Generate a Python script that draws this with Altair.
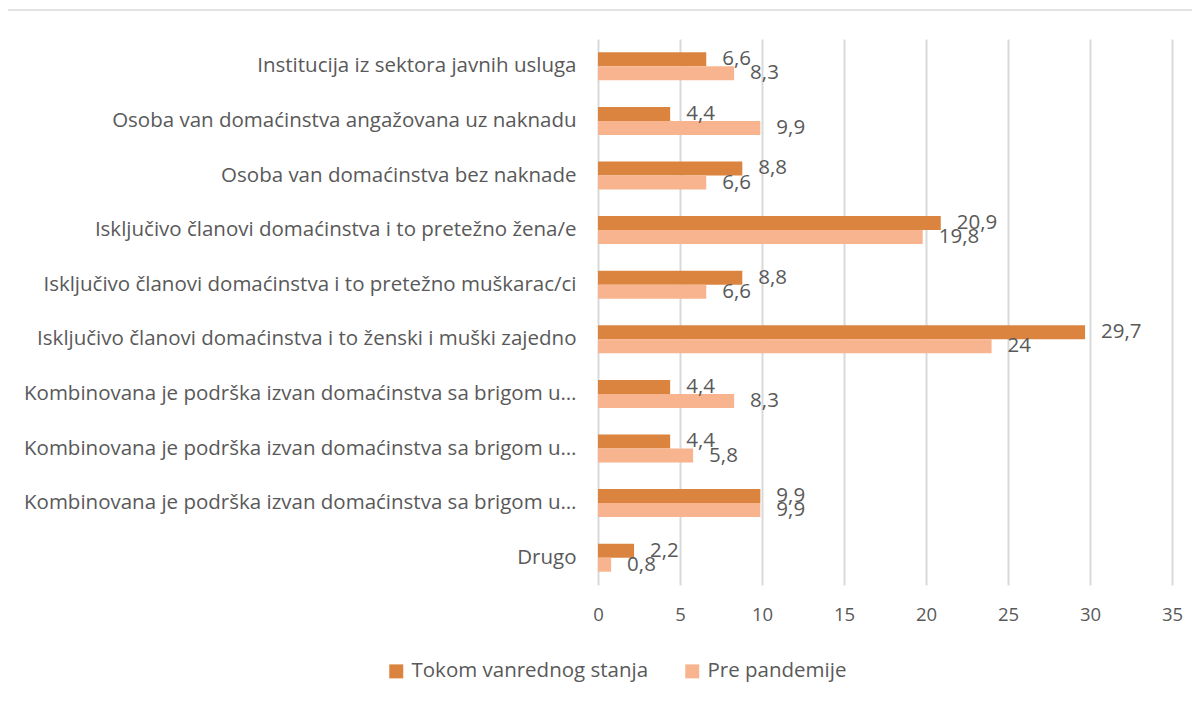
import altair as alt
import pandas as pd

categories = [
    "Institucija iz sektora javnih usluga",
    "Osoba van domaćinstva angažovana uz naknadu",
    "Osoba van domaćinstva bez naknade",
    "Isključivo članovi domaćinstva i to pretežno žena/e",
    "Isključivo članovi domaćinstva i to pretežno muškarac/ci",
    "Isključivo članovi domaćinstva i to ženski i muški zajedno",
    "Kombinovana je podrška izvan domaćinstva sa brigom u…",
    "Kombinovana je podrška izvan domaćinstva sa brigom u…",
    "Kombinovana je podrška izvan domaćinstva sa brigom u…",
    "Drugo",
]
series_names = ["Tokom vanrednog stanja", "Pre pandemije"]
tokom = [6.6, 4.4, 8.8, 20.9, 8.8, 29.7, 4.4, 4.4, 9.9, 2.2]
pre = [8.3, 9.9, 6.6, 19.8, 6.6, 24, 8.3, 5.8, 9.9, 0.8]
x_ticks = [0, 5, 10, 15, 20, 25, 30, 35]

rows = []
for i, c in enumerate(categories):
    rows.append({"idx": i, "series": series_names[0], "value": tokom[i]})
    rows.append({"idx": i, "series": series_names[1], "value": pre[i]})
df = pd.DataFrame(rows)

label_arr = "[" + ",".join("'" + c + "'" for c in categories) + "]"
FONT = "Open Sans"
FS = 20.5
GRAY = "#595959"
colors = ["#DB843F", "#F8B48E"]

base = alt.Chart(df).encode(
    y=alt.Y(
        "idx:O",
        scale=alt.Scale(paddingInner=0.487, paddingOuter=0.2435),
        axis=alt.Axis(
            title=None, labelExpr=label_arr + "[datum.value]", labelFontSize=FS,
            labelColor=GRAY, labelFont=FONT, labelPadding=22, ticks=False,
            domain=False, labelLimit=600,
        ),
    ),
    yOffset=alt.YOffset("series:N", sort=series_names),
)

bars = base.mark_bar().encode(
    x=alt.X(
        "value:Q",
        scale=alt.Scale(domain=[0, 35], nice=False),
        axis=alt.Axis(
            title=None, values=x_ticks, labelFontSize=18.5, labelColor=GRAY,
            labelFont=FONT, labelPadding=20, ticks=False, domain=False,
            grid=True, gridColor="#D9D9D9", gridWidth=2, labelFlush=False,
        ),
    ),
    color=alt.Color(
        "series:N",
        sort=series_names,
        scale=alt.Scale(domain=series_names, range=colors),
        legend=alt.Legend(
            title=None, orient="none", direction="horizontal", legendX=-212,
            legendY=622, symbolType="square", symbolSize=196, symbolStrokeWidth=0,
            labelFontSize=FS, labelColor=GRAY, labelFont=FONT, labelOffset=5,
            columnPadding=33, columns=2, labelLimit=400,
        ),
    ),
)

texts = base.mark_text(
    align="left", baseline="middle", dx=16, fontSize=FS, color=GRAY, font=FONT
).transform_calculate(
    lbl="replace(toString(datum.value), '.', ',')"
).encode(x="value:Q", text="lbl:N")

border_left = alt.Chart(pd.DataFrame({"a": [0]})).mark_rule(
    color="#D9D9D9", strokeWidth=1.5
).encode(x=alt.value(-591), y=alt.value(-29), y2=alt.value(700))
border_top = alt.Chart(pd.DataFrame({"a": [0]})).mark_rule(
    color="#D9D9D9", strokeWidth=1.5
).encode(x=alt.value(-591), x2=alt.value(620), y=alt.value(-29))

chart = alt.layer(border_left, border_top, bars, texts).properties(
    width=574, height=546,
    autosize=alt.AutoSizeParams(type="none"),
    padding={"left": 590, "top": 31, "right": 20, "bottom": 100},
    background="white",
).configure_view(stroke=None)

chart.save("out.html", embed_options={"renderer": "svg", "actions": False})
